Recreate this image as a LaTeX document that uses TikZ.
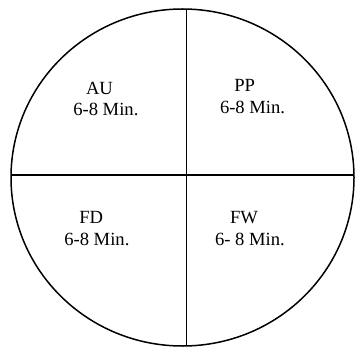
\documentclass[tikz,border=0pt]{standalone}
\usepackage{fontspec}
\setmainfont{Liberation Serif}
\begin{document}
\begin{tikzpicture}[x=1pt,y=-1pt,
  lbl/.style={anchor=base west,inner sep=0pt,outer sep=0pt,font=\fontsize{18.6}{20}\selectfont},
  ln/.style={line width=1.5pt,black}]
\useasboundingbox (0,0) rectangle (355,347);
\draw[ln] (182.5,177.5) ellipse [x radius=171.5, y radius=168.5];
\draw[ln] (186.7,9) -- (186.7,346);
\draw[ln] (11,175) -- (354,175);
\node[lbl] (au) at (86,95) {AU};
\node[lbl] (aut) at (73.3,116) {6-8 Min.};
\node[lbl] (pp) at (234.3,91.7) {PP};
\node[lbl] (ppt) at (220,113.3) {6-8 Min.};
\node[lbl] (fd) at (79.3,223.3) {FD};
\node[lbl] (fdt) at (64.3,245) {6-8 Min.};
\node[lbl] (fw) at (230,223.3) {FW};
\node[lbl] (fwt) at (215,245) {6- 8 Min.};
\end{tikzpicture}
\end{document}
